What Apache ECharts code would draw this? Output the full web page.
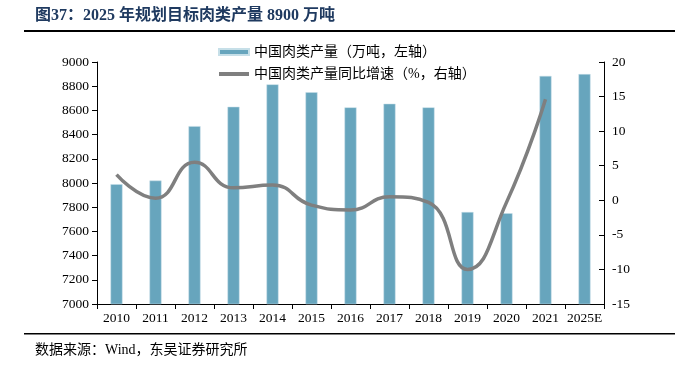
<!DOCTYPE html>
<html><head><meta charset="utf-8">
<script src="https://cdn.jsdelivr.net/npm/echarts@6/dist/echarts.min.js"></script>
<style>html,body{margin:0;padding:0;background:#fff}#c{width:675px;height:368px}</style>
</head><body><div id="c"></div>
<script>
var categories = ['2010','2011','2012','2013','2014','2015','2016','2017','2018','2019','2020','2021','2025E'];
var production = [7990, 8020, 8470, 8630, 8815, 8750, 8625, 8655, 8625, 7760, 7750, 8885, 8900];
var growth = [3.7, 0.3, 5.5, 1.8, 2.2, -0.7, -1.4, 0.5, -0.3, -10.0, -0.3, 14.6, null];
var barName = '中国肉类产量（万吨，左轴）';
var lineName = '中国肉类产量同比增速（%，右轴）';
var titleText = '图37：2025 年规划目标肉类产量 8900 万吨';
var sourceText = '数据来源：Wind，东吴证券研究所';

var serif = '"Liberation Serif","Noto Sans CJK SC",serif';
var cjk = '"Liberation Serif","Noto Sans CJK SC",sans-serif';
var chart = echarts.init(document.getElementById('c'));
chart.setOption({
  animation: false,
  backgroundColor: '#fff',
  graphic: [
    {type:'text', left:35, top:8, style:{text:titleText, font:'bold 16px ' + cjk, fill:'#1F3A60'}},
    {type:'rect', shape:{x:24, y:30, width:651, height:2}, style:{fill:'#000'}},
    {type:'rect', shape:{x:24, y:333, width:651, height:1.5}, style:{fill:'#000'}},
    {type:'text', left:35, top:343, style:{text:sourceText, font:'14px ' + cjk, fill:'#000'}}
  ],
  legend: {
    orient: 'vertical', left: 213, top: 40, itemGap: 8, itemWidth: 30, itemHeight: 6,
    textStyle: {fontFamily: cjk, fontSize: 14, color: '#000'},
    data: [{name: barName, icon: 'rect'},
           {name: lineName, icon: 'path://M0 0 L30 0 L30 4 L0 4 Z'}]
  },
  grid: {left: 97, right: 71, top: 62, bottom: 64},
  xAxis: {
    type: 'category', data: categories, boundaryGap: true,
    axisLine: {onZero: false, lineStyle: {color: '#000', width: 1}},
    axisTick: {show: true, length: 5, lineStyle: {color: '#000'}},
    axisLabel: {color: '#000', fontFamily: serif, fontSize: 13.5, margin: 8, interval: 0}
  },
  yAxis: [
    {type: 'value', min: 7000, max: 9000, interval: 200, position: 'left',
     axisLine: {show: true, lineStyle: {color: '#000'}},
     axisTick: {show: true, length: 5, lineStyle: {color: '#000'}},
     splitLine: {show: false},
     axisLabel: {color: '#000', fontFamily: serif, fontSize: 13.5, margin: 8,
                 formatter: function (v) { return String(v); }}},
    {type: 'value', min: -15, max: 20, interval: 5, position: 'right',
     axisLine: {show: true, onZero: false, lineStyle: {color: '#000'}},
     axisTick: {show: true, inside: true, length: 5, lineStyle: {color: '#000'}},
     splitLine: {show: false},
     axisLabel: {color: '#000', fontFamily: serif, fontSize: 13.5, margin: 8}}
  ],
  series: [
    {name: barName, type: 'bar', yAxisIndex: 0, data: production, barWidth: 12,
     itemStyle: {color: '#67A5BD', borderColor: '#C6DFE8', borderWidth: 0.5}},
    {name: lineName, type: 'line', yAxisIndex: 1, data: growth, smooth: 0.5,
     symbol: 'none', connectNulls: false,
     lineStyle: {color: '#7F7F7F', width: 3.5}, itemStyle: {color: '#7F7F7F'}}
  ]
});
</script></body></html>
